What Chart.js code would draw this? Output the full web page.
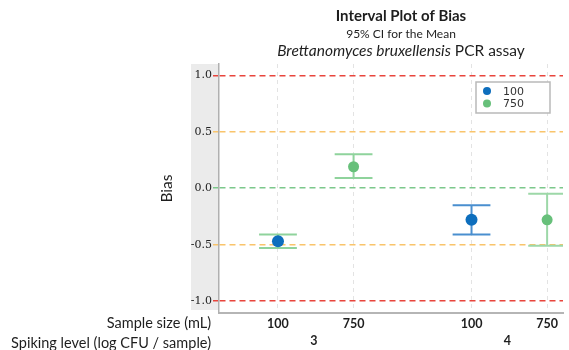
<!DOCTYPE html>
<html>
<head>
<meta charset="utf-8">
<script src="https://cdn.jsdelivr.net/npm/chart.js@4/dist/chart.umd.min.js"></script>
<style>
  html, body { margin: 0; padding: 0; background: #fff; overflow: hidden; }
  #wrap { width: 569px; height: 350px; }
</style>
</head>
<body>
<div id="wrap"><canvas id="myChart"></canvas></div>
<script>
"use strict";

// groups on the x axis
let sampleSizes = ["100", "750"];
let spikingLevels = ["3", "4"];

// mean bias and 95% CI, one entry per spiking level
let mean100 = [-0.47, -0.28];
let low100 = [-0.53, -0.41];
let high100 = [-0.41, -0.15];

let mean750 = [0.19, -0.28];
let low750 = [0.09, -0.51];
let high750 = [0.30, -0.05];

let yTicks = [-1.0, -0.5, 0.0, 0.5, 1.0];

// interval colours (first 100 mL interval is drawn green)
let ciColors100 = ["#8fd39c", "#4a8fcf"];
let ciColors750 = ["#8fd39c", "#9dd8a8"];

const groupGap = 2.56;
const capHalf = 0.25;

function xPos(level, size) {
    return level * groupGap + size;
}

function buildPoints(means, lows, highs, sizeIdx, colors) {
    return means.map((m, i) => ({
        x: xPos(i, sizeIdx), y: m, lo: lows[i], hi: highs[i], ciColor: colors[i]
    }));
}

let tickPositions = [];
let tickLabels = [];
spikingLevels.forEach((lvl, g) => {
    sampleSizes.forEach((s, i) => {
        tickPositions.push(xPos(g, i));
        tickLabels.push(s);
    });
});

// gray band behind the y tick labels
const bandPlugin = {
    id: "band",
    beforeDraw(chart) {
        let ctx = chart.ctx;
        let yScale = chart.scales.y;
        ctx.save();
        ctx.fillStyle = "#ebebeb";
        ctx.fillRect(yScale.left, chart.chartArea.top, yScale.width - 1, chart.chartArea.bottom - chart.chartArea.top - 3);
        ctx.restore();
    }
};

// CI whiskers with caps
const intervalPlugin = {
    id: "intervals",
    beforeDatasetsDraw(chart) {
        let ctx = chart.ctx;
        let x = chart.scales.x;
        let y = chart.scales.y;
        let area = chart.chartArea;
        ctx.save();
        ctx.beginPath();
        ctx.rect(area.left, area.top, area.right - area.left, area.bottom - area.top);
        ctx.clip();
        ctx.lineWidth = 2;
        chart.data.datasets.forEach(ds => {
            ds.data.forEach(p => {
                let px = x.getPixelForValue(p.x);
                let pl = x.getPixelForValue(p.x - capHalf);
                let pr = x.getPixelForValue(p.x + capHalf);
                let yLo = y.getPixelForValue(p.lo);
                let yHi = y.getPixelForValue(p.hi);
                ctx.strokeStyle = p.ciColor;
                ctx.beginPath();
                ctx.moveTo(px, yHi);
                ctx.lineTo(px, yLo);
                ctx.moveTo(pl, yHi);
                ctx.lineTo(pr, yHi);
                ctx.moveTo(pl, yLo);
                ctx.lineTo(pr, yLo);
                ctx.stroke();
            });
        });
        ctx.restore();
    }
};

// titles, axis title, group labels and legend box
const textPlugin = {
    id: "texts",
    afterDraw(chart) {
        let ctx = chart.ctx;
        let x = chart.scales.x;
        let area = chart.chartArea;
        let cx = 401;
        ctx.save();
        ctx.fillStyle = "#1e1e1e";
        ctx.textBaseline = "middle";
        ctx.textAlign = "center";

        ctx.font = "bold 15px Lato";
        ctx.fillText("Interval Plot of Bias", cx, 16);
        ctx.font = "12px Lato";
        ctx.fillText("95% CI for the Mean", cx, 34);

        // third line: italic species name + plain text
        let part1 = "Brettanomyces bruxellensis";
        let part2 = " PCR assay";
        ctx.font = "italic 15.5px Lato";
        let w1 = ctx.measureText(part1).width;
        ctx.font = "15.5px Lato";
        let w2 = ctx.measureText(part2).width;
        let startX = cx - (w1 + w2) / 2;
        ctx.textAlign = "left";
        ctx.font = "italic 15.5px Lato";
        ctx.fillText(part1, startX, 51);
        ctx.font = "15.5px Lato";
        ctx.fillText(part2, startX + w1, 51);

        // y axis title
        ctx.save();
        ctx.translate(167, (area.top + area.bottom) / 2);
        ctx.rotate(-Math.PI / 2);
        ctx.textAlign = "center";
        ctx.font = "15.5px Lato";
        ctx.fillText("Bias", 0, 0);
        ctx.restore();

        // row titles under the axis
        ctx.textAlign = "right";
        ctx.font = "14.5px Lato";
        ctx.fillText("Sample size (mL)", 211, 323);
        ctx.fillText("Spiking level (log CFU / sample)", 211, 343);

        // spiking level labels centred under each group
        ctx.textAlign = "center";
        ctx.font = "bold 12.5px Lato";
        spikingLevels.forEach((lvl, g) => {
            let mid = (x.getPixelForValue(xPos(g, 0)) + x.getPixelForValue(xPos(g, sampleSizes.length - 1))) / 2;
            ctx.fillText(lvl, mid - 2, 341);
        });

        // legend
        let lx = 476, ly = 82, lw = 74, lh = 31;
        ctx.fillStyle = "#fff";
        ctx.fillRect(lx, ly, lw, lh);
        ctx.strokeStyle = "#b9b9b9";
        ctx.lineWidth = 1.5;
        ctx.strokeRect(lx, ly, lw, lh);
        ctx.textAlign = "left";
        ctx.font = "11px 'DejaVu Sans'";
        chart.data.datasets.forEach((ds, i) => {
            let rowY = ly + 9 + i * 12.5;
            ctx.fillStyle = ds.backgroundColor;
            ctx.beginPath();
            ctx.arc(lx + 11, rowY, 4, 0, Math.PI * 2);
            ctx.fill();
            ctx.fillStyle = "#333";
            ctx.fillText(ds.label, lx + 27, rowY + 1);
        });
        ctx.restore();
    }
};

function refLineColor(v) {
    if (Math.abs(Math.abs(v) - 1) < 1e-6) return "#e8453c";
    if (Math.abs(Math.abs(v) - 0.5) < 1e-6) return "#f9c46b";
    return "#7cc88b";
}

const ctx = document.getElementById("myChart");

new Chart(ctx, {
    type: "scatter",
    data: {
        datasets: [{
            label: sampleSizes[0],
            data: buildPoints(mean100, low100, high100, 0, ciColors100),
            backgroundColor: "#0d6ebd",
            borderColor: "#0d6ebd",
            pointRadius: 6,
            pointHoverRadius: 6,
            borderWidth: 0
        }, {
            label: sampleSizes[1],
            data: buildPoints(mean750, low750, high750, 1, ciColors750),
            backgroundColor: "#67c07a",
            borderColor: "#67c07a",
            pointRadius: 5.5,
            pointHoverRadius: 5.5,
            borderWidth: 0
        }]
    },
    options: {
        responsive: true,
        maintainAspectRatio: false,
        animation: false,
        layout: { padding: { left: 191, top: 64, right: 0, bottom: 0 } },
        plugins: {
            legend: { display: false },
            tooltip: { enabled: false }
        },
        scales: {
            x: {
                type: "linear",
                min: -0.78,
                max: 3.77,
                afterBuildTicks: scale => {
                    scale.ticks = tickPositions.map(v => ({ value: v }));
                },
                afterFit: scale => { scale.height = 37; },
                ticks: {
                    callback: (value, index) => tickLabels[index],
                    color: "#1e1e1e",
                    font: { family: "Lato", size: 12.5, weight: "bold" },
                    padding: 3,
                    maxRotation: 0
                },
                grid: {
                    color: "#e3e3e3",
                    lineWidth: 1,
                    drawTicks: false
                },
                border: { display: true, color: "#b5b5b5", width: 2, dash: [4, 4] }
            },
            y: {
                min: -1.105,
                max: 1.1,
                afterBuildTicks: scale => {
                    scale.ticks = yTicks.map(v => ({ value: v }));
                },
                afterFit: scale => { scale.width = 28; },
                ticks: {
                    callback: value => value.toFixed(1),
                    color: "#222",
                    font: { family: "DejaVu Serif", size: 11 },
                    padding: 1
                },
                grid: {
                    color: c => refLineColor(c.tick.value),
                    lineWidth: 1.5,
                    tickLength: 6
                },
                border: { display: true, color: "#b0b0b0", width: 1.5, dash: [6, 4] }
            }
        }
    },
    plugins: [bandPlugin, intervalPlugin, textPlugin]
});
</script>
</body>
</html>
